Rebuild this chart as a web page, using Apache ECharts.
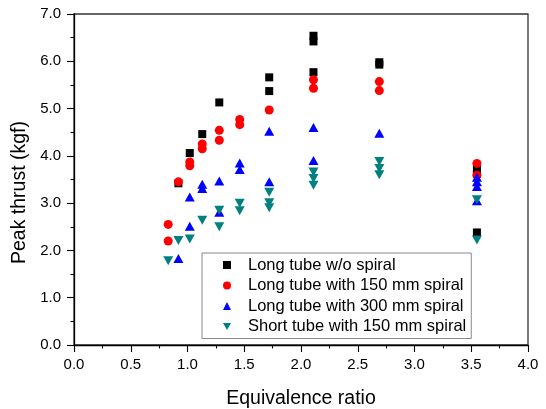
<!DOCTYPE html>
<html><head><meta charset="utf-8">
<script src="https://cdn.jsdelivr.net/npm/echarts@6/dist/echarts.min.js"></script>
<style>html,body{margin:0;padding:0;background:#fff}#c{width:546px;height:409px}</style>
</head><body><div id="c"></div>
<script>
var seriesNames = ['Long tube w/o spiral','Long tube with 150 mm spiral','Long tube with 300 mm spiral','Short tube with 150 mm spiral'];
var xTicks = [0,0.5,1,1.5,2,2.5,3,3.5,4];
var yTicks = [0,1,2,3,4,5,6,7];
var longNoSpiral = [[0.92,3.42],[1.02,4.06],[1.13,4.46],[1.28,5.13],[1.72,5.66],[1.72,5.37],[2.11,6.54],[2.11,6.42],[2.11,5.77],[2.69,5.98],[2.69,5.93],[3.55,3.72],[3.55,3.62],[3.55,2.38]];
var long150 = [[0.83,2.55],[0.83,2.2],[0.92,3.45],[1.02,3.87],[1.02,3.79],[1.13,4.25],[1.13,4.15],[1.28,4.54],[1.28,4.33],[1.46,4.77],[1.46,4.66],[1.72,4.97],[2.11,5.61],[2.11,5.43],[2.69,5.57],[2.69,5.38],[3.55,3.84],[3.55,3.59]];
var long300 = [[0.92,1.83],[1.02,2.51],[1.02,3.13],[1.13,3.40],[1.13,3.31],[1.28,3.47],[1.28,2.81],[1.46,3.85],[1.46,3.71],[1.72,4.52],[1.72,3.45],[2.11,4.60],[2.11,3.90],[2.69,4.48],[3.55,3.55],[3.55,3.45],[3.55,3.35],[3.55,3.05]];
var short150 = [[0.83,1.78],[0.92,2.21],[1.02,2.24],[1.13,2.64],[1.28,2.85],[1.28,2.50],[1.46,3.00],[1.46,2.84],[1.72,3.23],[1.72,3.01],[1.72,2.90],[2.11,3.66],[2.11,3.52],[2.11,3.38],[2.69,3.88],[2.69,3.73],[2.69,3.60],[3.55,3.07],[3.55,2.22]];

var FONT = '"Liberation Sans", Arial, sans-serif';
var chart = echarts.init(document.getElementById('c'), null, {renderer:'canvas'});
function axisCommon(ticks){
  return {
    min: ticks[0], max: ticks[ticks.length-1], interval: ticks[1]-ticks[0],
    axisLine:{show:true, onZero:false, lineStyle:{color:'#000', width:1.3}},
    axisTick:{show:true, inside:false, length:7, lineStyle:{color:'#000', width:1.1}},
    minorTick:{show:true, splitNumber:2, length:3.5, lineStyle:{color:'#000', width:1.1}},
    splitLine:{show:false},
    axisLabel:{color:'#000', fontSize:15, fontFamily:FONT, formatter:function(v){return v.toFixed(1);}},
    nameLocation:'middle',
    nameTextStyle:{color:'#000', fontSize:19.5, fontFamily:FONT}
  };
}
var xa = axisCommon(xTicks); xa.type='value'; xa.name='Equivalence ratio'; xa.nameGap=44; xa.axisLabel.margin=12;
var ya = axisCommon(yTicks); ya.type='value'; ya.name='Peak thrust (kgf)'; ya.nameGap=43; ya.axisLabel.margin=13;
ya.nameTextStyle = {color:'#000', fontSize:19.5, fontFamily:FONT, padding:[0,26,0,0]};
function sc(name, data, symbol, color, size, rotate){
  return {type:'scatter', name:name, data:data, symbol:symbol, symbolSize:size, symbolRotate:rotate||0,
    itemStyle:{color:color, opacity:1}, emphasis:{disabled:true}, animation:false};
}
chart.setOption({
  animation:false,
  backgroundColor:'#fff',
  grid:{left:74, right:18, top:14, bottom:64, containLabel:false, outerBoundsMode:'none',
        show:true, borderColor:'#333', borderWidth:1.3, backgroundColor:'transparent'},
  xAxis: xa,
  yAxis: ya,
  legend:{
    orient:'vertical', left:202, top:253,
    padding:[3,5,3,21], itemGap:2.5, itemWidth:8, itemHeight:8,
    borderColor:'#888', borderWidth:1, backgroundColor:'#fff',
    textStyle:{color:'#000', fontSize:16.5, fontFamily:FONT, lineHeight:18, padding:[0,0,0,12]},
    data:[
      {name:seriesNames[0], icon:'rect'},
      {name:seriesNames[1], icon:'circle'},
      {name:seriesNames[2], icon:'triangle'},
      {name:seriesNames[3], icon:'path://M0,0 L10,0 L5,9 Z'}
    ]
  },
  series:[
    sc(seriesNames[0], longNoSpiral, 'rect', '#000000', 8),
    sc(seriesNames[1], long150, 'circle', '#ff0000', 9),
    sc(seriesNames[2], long300, 'triangle', '#0000ff', [10,9]),
    sc(seriesNames[3], short150, 'triangle', '#008080', [10,9], 180)
  ]
});
</script></body></html>
